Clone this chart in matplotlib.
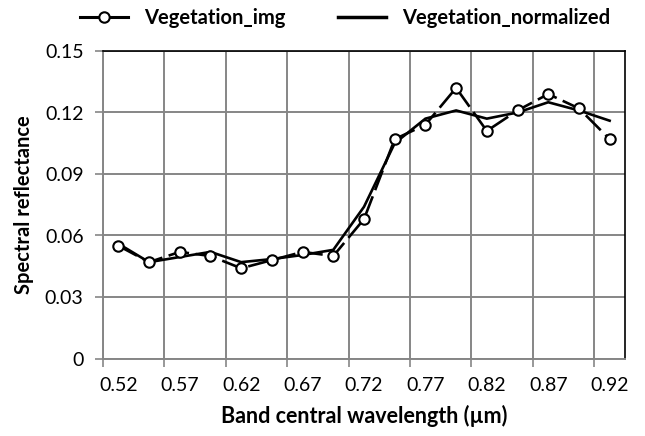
import matplotlib
matplotlib.use("Agg")
import matplotlib.pyplot as plt
from matplotlib.lines import Line2D
import numpy as np

wavelengths = ["0.52", "0.545", "0.57", "0.595", "0.62", "0.645", "0.67", "0.695", "0.72",
               "0.745", "0.77", "0.795", "0.82", "0.845", "0.87", "0.895", "0.92"]
veg_img = [0.055, 0.047, 0.052, 0.050, 0.044, 0.048, 0.052, 0.050, 0.068,
           0.107, 0.114, 0.132, 0.111, 0.121, 0.129, 0.122, 0.107]
veg_norm = [0.056, 0.047, 0.0495, 0.052, 0.047, 0.0485, 0.0505, 0.053, 0.074,
            0.105, 0.117, 0.121, 0.117, 0.120, 0.125, 0.121, 0.116]
y_ticks = [0, 0.03, 0.06, 0.09, 0.12, 0.15]
y_tick_labels = ["0", "0.03", "0.06", "0.09", "0.12", "0.15"]

plt.rcParams['font.family'] = ['Lato', 'DejaVu Sans']

fig = plt.figure(figsize=(6.45, 4.36), dpi=100)
ax = fig.add_axes([103/645, 1-358.5/436, (625-103)/645, (358.5-51)/436])

x = np.arange(len(wavelengths))
ax.plot(x, veg_norm, color='black', lw=1.9, zorder=3, solid_joinstyle='miter')
ax.plot(x, veg_img, color='black', lw=1.9, zorder=4, dashes=(8, 2.5),
        marker='o', markersize=7.5, markerfacecolor='white', markeredgecolor='black',
        markeredgewidth=1.5)

ax.set_xlim(-0.5, len(wavelengths) - 0.5)
ax.set_ylim(0, 0.15)

# ticks and grid at category boundaries every 2 categories
bounds = np.arange(-0.5, len(wavelengths) - 1, 2)
ax.set_xticks(bounds)
ax.set_xticklabels([])
ax.set_xticks(x[::2], minor=True)
ax.set_xticklabels([wavelengths[i] for i in range(0, len(wavelengths), 2)], minor=True)
ax.tick_params(axis='x', which='minor', length=0, labelsize=14, pad=13)
ax.tick_params(axis='x', which='major', length=6, width=1.2, color='#868686', direction='out')
ax.set_yticks(y_ticks)
ax.set_yticklabels(y_tick_labels)
ax.tick_params(axis='y', length=6, width=1.2, color='#868686', labelsize=14, pad=8)

ax.grid(True, which='major', color='#868686', lw=1.4)
ax.set_axisbelow(True)

for s in ['left', 'bottom']:
    ax.spines[s].set_color('#868686')
    ax.spines[s].set_linewidth(1.4)
for s in ['top', 'right']:
    ax.spines[s].set_color('black')
    ax.spines[s].set_linewidth(1.2)

ax.set_xlabel("Band central wavelength (µm)", fontsize=15.5, fontweight='bold', labelpad=8)
ax.set_ylabel("Spectral reflectance", fontsize=14.5, fontweight='bold', labelpad=8)

handles = [Line2D([], [], color='black', lw=2.2, marker='o', markersize=7.5,
                  markerfacecolor='white', markeredgewidth=1.5),
           Line2D([], [], color='black', lw=2.5)]
fig.legend(handles, ["Vegetation_img", "Vegetation_normalized"], loc='center',
           bbox_to_anchor=(0.535, 0.958), ncol=2, frameon=False, handlelength=2.4,
           columnspacing=2.6, handletextpad=0.8,
           prop={'size': 14.5, 'weight': 'bold'})

fig.savefig("out.png", dpi=100)
